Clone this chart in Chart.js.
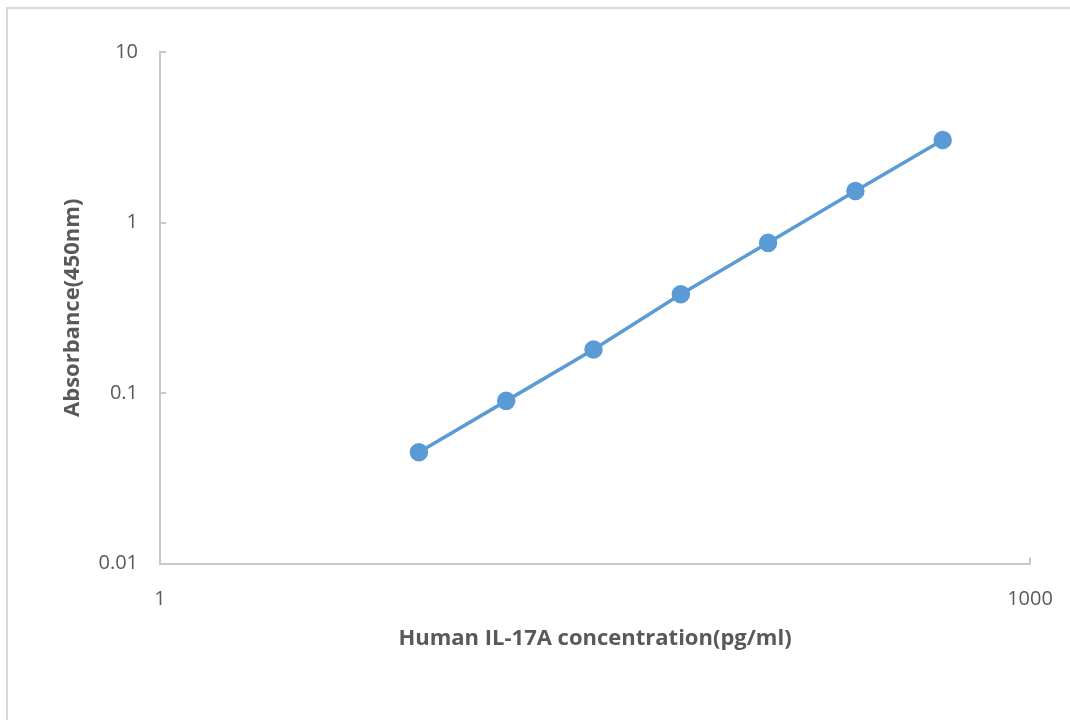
<!DOCTYPE html>
<html>
<head>
<meta charset="utf-8">
<script src="https://cdn.jsdelivr.net/npm/chart.js@4/dist/chart.umd.min.js"></script>
<style>
  html, body { margin: 0; padding: 0; background: #fff; overflow: hidden; }
  #wrap { position: relative; width: 1070px; height: 720px; }
  #frame { position: absolute; left: 6px; top: 7px; width: 1100px; height: 800px;
           border-top: 2px solid #d9d9d9; border-left: 2px solid #d9d9d9; }
  canvas { position: absolute; left: 0; top: 0; }
</style>
</head>
<body>
<div id="wrap">
  <div id="frame"></div>
  <canvas id="curve" width="1070" height="720"></canvas>
</div>
<script>
// standard curve
const concentrations = [7.8125, 15.625, 31.25, 62.5, 125, 250, 500];
const absorbance = [0.045, 0.09, 0.18, 0.38, 0.76, 1.53, 3.05];
const xTicks = [1, 1000];
const yTicks = [0.01, 0.1, 1, 10];

const grey = '#595959';
const axisColor = '#c8c8c8';
const fam = '"Open Sans", sans-serif';

// Excel-style tick marks that point into the plot
const innerTicks = {
    id: 'innerTicks',
    afterDraw(chart) {
        const ctx = chart.ctx;
        const x = chart.scales.x, y = chart.scales.y;
        ctx.save();
        ctx.strokeStyle = axisColor;
        ctx.lineWidth = 2;
        ctx.beginPath();
        yTicks.forEach(v => {
            const py = Math.round(y.getPixelForValue(v));
            ctx.moveTo(x.left, py);
            ctx.lineTo(x.left + 6, py);
        });
        xTicks.forEach(v => {
            const px = Math.round(x.getPixelForValue(v));
            ctx.moveTo(px, y.bottom);
            ctx.lineTo(px, y.bottom - 6);
        });
        ctx.stroke();
        ctx.restore();
    }
};

new Chart(document.getElementById('curve').getContext('2d'), {
    type: 'line',
    data: {
        datasets: [{
            data: concentrations.map((c, i) => ({ x: c, y: absorbance[i] })),
            borderColor: '#5b9bd5',
            backgroundColor: '#5b9bd5',
            borderWidth: 3.5,
            pointRadius: 7.5,
            pointHoverRadius: 7.5,
            tension: 0,
        }]
    },
    options: {
        responsive: false,
        animation: false,
        layout: { padding: { top: 52, right: 40, bottom: 68, left: 0 } },
        plugins: { legend: { display: false }, tooltip: { enabled: false } },
        scales: {
            x: {
                type: 'logarithmic',
                min: 1, max: 1000,
                afterBuildTicks: s => { s.ticks = xTicks.map(v => ({ value: v })); },
                afterFit: s => { s.paddingLeft = 0; s.paddingRight = 0; },
                ticks: { color: grey, font: { family: fam, size: 20 }, padding: 24, maxRotation: 0,
                         callback: v => String(v) },
                grid: { display: true, drawOnChartArea: false, drawTicks: false },
                border: { color: axisColor, width: 2 },
                title: { display: true, text: 'Human IL-17A concentration(pg/ml)', color: grey,
                         font: { family: fam, size: 22, weight: 'bold' }, padding: { top: -10, bottom: 0 } }
            },
            y: {
                type: 'logarithmic',
                min: 0.01, max: 10,
                afterBuildTicks: s => { s.ticks = yTicks.map(v => ({ value: v })); },
                afterFit: s => { s.width = 160; s.paddingTop = 0; s.paddingBottom = 0; },
                ticks: { color: grey, font: { family: fam, size: 20 }, padding: 22,
                         callback: v => String(v) },
                grid: { display: true, drawOnChartArea: false, drawTicks: false },
                border: { color: axisColor, width: 2 },
                title: { display: true, text: 'Absorbance(450nm)', color: grey,
                         font: { family: fam, size: 22, weight: 'bold' }, padding: { top: 60, bottom: 0 } }
            }
        }
    },
    plugins: [innerTicks]
});
</script>
</body>
</html>
